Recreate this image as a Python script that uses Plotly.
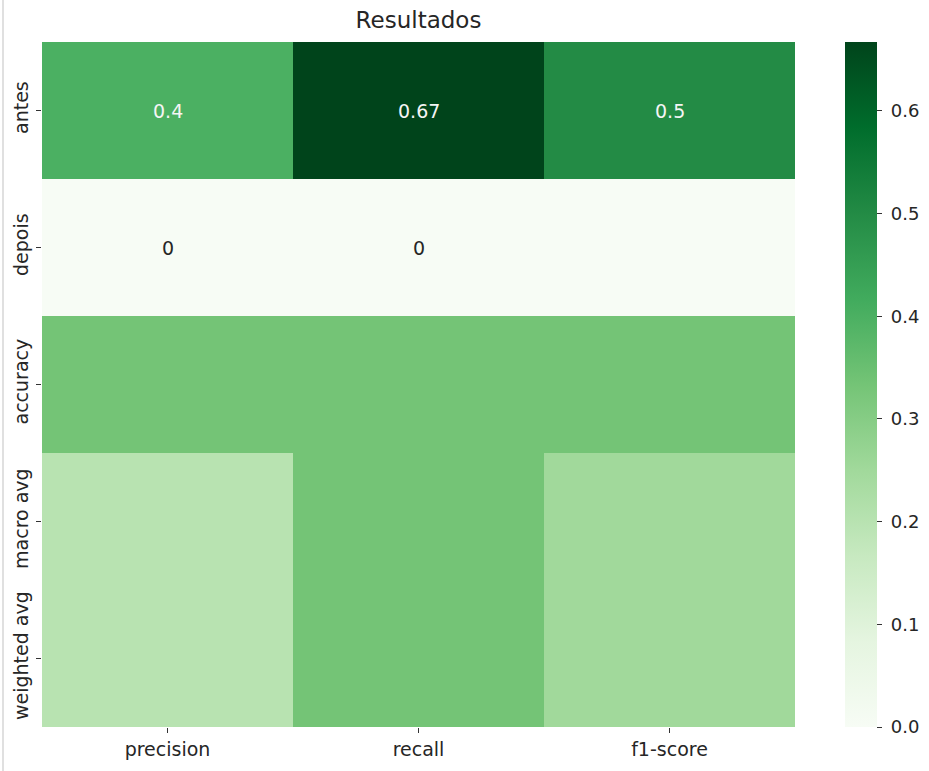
import plotly.graph_objects as go

rows = ["antes", "depois", "accuracy", "macro avg", "weighted avg"]
cols = ["precision", "recall", "f1-score"]
z = [
    [0.40, 0.67, 0.50],
    [0.0, 0.0, 0.0],
    [0.333, 0.333, 0.333],
    [0.20, 0.333, 0.25],
    [0.20, 0.333, 0.25],
]
labels = [
    ["0.4", "0.67", "0.5"],
    ["0", "0", ""],
    ["", "", ""],
    ["", "", ""],
    ["", "", ""],
]
cbar_ticks = [0.0, 0.1, 0.2, 0.3, 0.4, 0.5, 0.6]

greens = [
    [0.0, "#f7fcf5"], [0.125, "#e5f5e0"], [0.25, "#c7e9c0"], [0.375, "#a1d99b"],
    [0.5, "#74c476"], [0.625, "#41ab5d"], [0.75, "#238b45"], [0.875, "#006d2c"],
    [1.0, "#00441b"],
]
zmin, zmax = 0.0, 0.667
FS = 19

fig = go.Figure(go.Heatmap(
    z=z, x=cols, y=rows, colorscale=greens, zmin=zmin, zmax=zmax,
    hoverongaps=False,
    colorbar=dict(
        thickness=32, len=1.0, lenmode="fraction", y=0.5, yanchor="middle",
        x=(845 - 42) / 753, xanchor="left", xpad=0, ypad=0, outlinewidth=0,
        tickvals=cbar_ticks, ticktext=[f" {v:.1f}" for v in cbar_ticks],
        ticks="outside", ticklen=5, tickcolor="#333333",
        tickfont=dict(family="DejaVu Sans", size=FS - 1, color="#262626"),
    ),
))

annotations = []
for i, r in enumerate(rows):
    for j, c in enumerate(cols):
        if labels[i][j]:
            norm = (z[i][j] - zmin) / (zmax - zmin)
            annotations.append(dict(
                x=c, y=r, text=labels[i][j], showarrow=False,
                font=dict(family="DejaVu Sans", size=FS,
                          color="#f5f5f5" if norm > 0.55 else "#262626"),
            ))

fig.update_layout(
    width=929, height=771,
    margin=dict(l=42, r=134, t=42, b=44, autoexpand=False),
    paper_bgcolor="white", plot_bgcolor="white",
    title=dict(text="Resultados", x=(42 + 795) / 2 / 929, xanchor="center",
               y=1 - 20 / 771, yanchor="middle",
               font=dict(family="DejaVu Sans", size=23, color="#262626")),
    annotations=annotations,
    xaxis=dict(ticks="outside", ticklen=5, tickcolor="#333333", showgrid=False,
               zeroline=False, showline=False,
               tickfont=dict(family="DejaVu Sans", size=FS, color="#262626")),
    yaxis=dict(autorange="reversed", ticks="outside", ticklen=5, tickcolor="#333333",
               showgrid=False, zeroline=False, showline=False, tickangle=-90,
               tickfont=dict(family="DejaVu Sans", size=FS, color="#262626")),
    shapes=[dict(type="line", xref="paper", yref="paper", x0=-39 / 753, x1=-39 / 753,
                 y0=-0.1, y1=1.1, line=dict(color="#e0e0e0", width=2))],
)

fig.write_html("out.html")
